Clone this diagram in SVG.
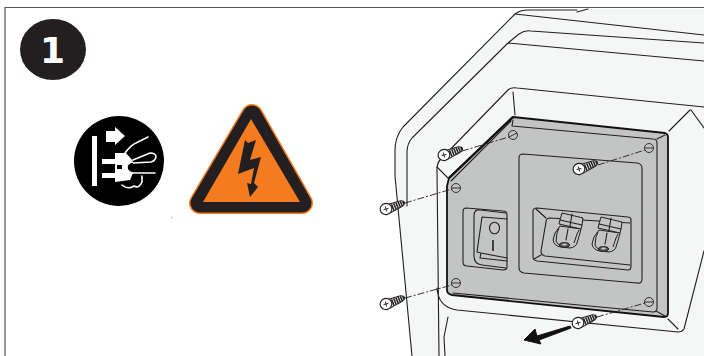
<svg xmlns="http://www.w3.org/2000/svg" width="704" height="356" viewBox="0 0 704 356">
<style>
.l{fill:none;stroke:#231f20;stroke-width:1.100;stroke-linejoin:round;stroke-linecap:round}
.d{fill:none;stroke:#231f20;stroke-width:.9;stroke-dasharray:7 2 2 2}
.h{fill:none;stroke:#231f20;stroke-width:1}
.w{fill:none;stroke:#fff;stroke-width:1.600;stroke-linecap:round;stroke-linejoin:round}
</style>
<defs>
<g id="screw">
<path d="M0-3.800 16-4.400Q19.500-3.600 19.500-1.500 19.500 0 16 1.400L2 5.200Z" fill="#fff" stroke="#231f20" stroke-width="1"/>
<path d="M6.500-3.200 7.500 3.600M8.800-3.600 9.800 3M11.100-3.800 12.100 2.400M13.400-4 14.400 1.800M15.700-4 16.700 1.200M18-3.400 18.800-.4" stroke="#231f20" stroke-width="1.500" fill="none"/>
<ellipse rx="5.900" ry="5.500" fill="#fff" stroke="#231f20" stroke-width="1.200"/>
<path d="M-2.500 0H2.500M0-2.500V2.500" stroke="#231f20" stroke-width=".9"/>
</g>
<g id="gland">
<path d="M560 226 555 233 553 240Q554 246 561 247L570 248Q576 247 577 243L580 233 581 229Z" fill="#c3c4c4" stroke="#231f20" stroke-width="1"/>
<path d="M562 213 583 218 582 225 581 229 559 224 560 220Z" fill="#c3c4c4" stroke="#231f20" stroke-width="1" stroke-linejoin="round"/>
<path d="M572 214 570 226M560 220 582 225" class="l"/>
<path d="M559 228 557 233 556 241Q557 244 560 245M579 230 577 234 574 243" class="h"/>
<path d="M568 229 566 240" class="l"/>
<ellipse cx="564.500" cy="245" rx="5" ry="2.400" fill="#555" stroke="#231f20" stroke-width="1"/>
<ellipse cx="564.500" cy="244.500" rx="2.500" ry="1" fill="#c3c4c4"/>
</g>
</defs>
<rect width="704" height="356" fill="#fff"/>
<path d="M5 356V7.500H704" fill="none" stroke="#555" stroke-width="1.200"/>
<g id="badge">
<ellipse cx="53" cy="49.500" rx="33" ry="30.500" fill="#231f20"/>
<text x="52.500" y="63" font-family="DejaVu Sans" font-weight="700" font-size="36" text-anchor="middle" fill="#fff">1</text>
</g>
<g id="unplug-sign">
<circle cx="119" cy="161" r="45" fill="#000"/>
<rect x="92" y="136" width="5" height="50" fill="#fff"/>
<path d="M106 131H115V127L125 136 115 145V142H106Z" fill="#fff"/>
<path d="M115 153H126L133 161 127 165V170L133 173 130 180 115 182Z" fill="#fff"/>
<path d="M102 159H115V164H102ZM102 173H115V178H102Z" fill="#fff"/>
<rect x="117" y="165" width="5" height="4" fill="#000"/>
<path d="M125 153Q131 145 136 143L148 137M133 160 150 153Q156 153 156 157 155 161 151 162L133 163M133 173H155M142 176V182Q139 189 134 186 128 190 122 185" class="w"/>
<path d="M133 162Q127 163 127 167 127 172 133 173" fill="#000" stroke="#fff" stroke-width="1.500"/>
</g>
<g id="warning-sign">
<path d="M252 115 200 203H302Z" fill="#f47b20" stroke="#f47b20" stroke-width="22" stroke-linejoin="round"/>
<path d="M252 115 200 203H302Z" fill="#231f20" stroke="#231f20" stroke-width="19" stroke-linejoin="round"/>
<path d="M251 119 300 202H203Z" fill="#f47b20"/>
<path d="M245 140 248 143 256 140 250 160 261 157 254 183 258 187 250 197 247 183 251 184 254 168 238 174Z" fill="#231f20"/>
</g>
<rect x="171" y="217" width="1" height="1" fill="#999"/>
<g id="housing">
<path d="M704 9 588 9 577 10H528Q520 10 515 14L403 127Q395 137 395 150V176L412 356H704Z" fill="#f5f7f6"/>
<path class="l" d="M588 9 577 12M577 10H528Q520 10 515 14L403 127Q395 137 395 150V176L412 356M515 14 704 35"/>
<path class="l" d="M704 43 531 31Q525 30 519 34L508 43 412 138Q407 144 407 152V206M508 43 704 61"/>
<path class="l" d="M704 107 517 88Q510 87 507 91L440 160Q437 163 437 170L439 356M437 288Q438 307 457 310L678 332Q682 332 684 329L704 251"/>
<path class="l" d="M513 92 515 115M690 110 669 131M691 110 704 128M437 167 448 178M668 319 678 329M448 317 444 337 445 356"/>
</g>
<g id="plate">
<path d="M513 117 665 133Q668 134 668 137V313Q668 317 664 317L452 295Q447 294 447 290V186L449 178Z" fill="#c3c4c4" stroke="#111" stroke-width="1.800" stroke-linejoin="round"/>
<path d="M449 178 513 117" stroke="#111" stroke-width="2.400"/>
<path class="l" d="M513 120 512 126 653 139Q657 139 657 143V308Q657 312 653 312L453 293M665 135 657 139M665 316 656 311M511 121 451 181"/>
</g>
<g id="panel">
<path class="l" d="M523 154 637 163Q642 164 642 168V279Q642 284 637 283L524 273Q519 272 519 268V158Q519 154 523 154Z"/>
</g>
<g id="switch">
<path class="l" d="M466 208 503 211Q507 211 507 215V267Q507 270 503 270L467 266Q463 266 463 262V212Q463 208 466 208Z"/>
<path class="l" d="M506 213 480 210Q474 209 474 216V256Q474 264 482 265L506 268"/>
<path class="l" d="M507 219 482 217 477 252 481 253 507 258M481 253 480 258 507 261"/>
<ellipse cx="494.500" cy="228" rx="5" ry="5.800" class="l"/>
<path d="M493 240V251" stroke="#231f20" stroke-width="1.600"/>
</g>
<g id="sockets">
<path class="l" d="M537 208 628 217Q631 217 631 220V266Q631 270 628 270L537 261Q533 260 533 257V211Q533 208 537 208Z"/>
<path class="l" d="M630 223 550 218Q546 218 546 222L541 251Q541 255 545 256L630 265M536 209 546 218M534 259 541 255"/>
<use href="#gland"/>
<use href="#gland" transform="translate(39 4)"/>
</g>
<g id="holes" fill="none" stroke="#231f20" stroke-width=".9">
<circle cx="513" cy="135" r="4.500"/>
<path d="M509 137 517 133"/>
<circle cx="649" cy="148" r="4.500"/>
<path d="M645 148H653"/>
<circle cx="456" cy="188" r="4.500"/>
<path d="M452 188H460"/>
<circle cx="456" cy="283" r="4.500"/>
<path d="M452 283H460"/>
<circle cx="649" cy="302" r="4.500"/>
<path d="M645 302H653"/>
</g>
<g id="connectors">
<path class="d" d="M462 151 509 137"/>
<path class="d" d="M598 165 645 150"/>
<path class="d" d="M405 203 452 189"/>
<path class="d" d="M405 298 452 285"/>
<path class="d" d="M597 317 645 303"/>
<path d="M570 326 537 336 535 329 524 340 541 344 539 340 571 328Z" fill="#111" stroke="#111" stroke-width="1"/>
</g>
<g id="screws">
<use href="#screw" transform="translate(444 155) rotate(-14)"/>
<use href="#screw" transform="translate(579 169) rotate(-14)"/>
<use href="#screw" transform="translate(386 209) rotate(-14)"/>
<use href="#screw" transform="translate(386 304) rotate(-14)"/>
<use href="#screw" transform="translate(578 323) rotate(-14)"/>
</g>
</svg>
